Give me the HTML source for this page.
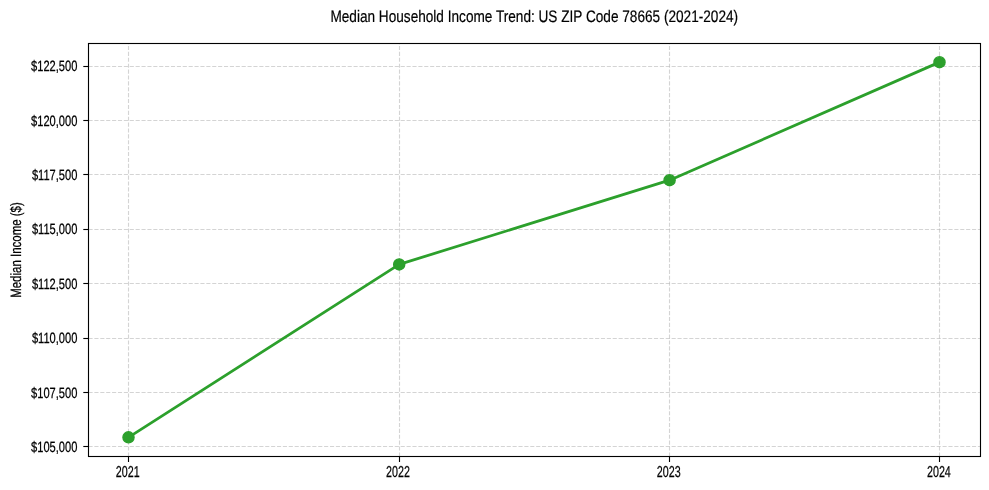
<!DOCTYPE html>
<html><head><meta charset="utf-8"><title>Median Household Income Trend</title><style>
html,body{margin:0;padding:0;background:#fff;width:989px;height:490px;overflow:hidden}
svg{display:block} text{will-change:transform;text-rendering:geometricPrecision} text.rot{will-change:auto;filter:grayscale(1)}
</style></head><body>
<svg width="989" height="490" viewBox="0 0 989 490">
<rect width="989" height="490" fill="#fff"/>
<g stroke="#b0b0b0" stroke-opacity="0.55" stroke-width="1.11" stroke-dasharray="4.11 1.78"><line x1="88.5" x2="980.5" y1="446.5" y2="446.5"/><line x1="88.5" x2="980.5" y1="392.5" y2="392.5"/><line x1="88.5" x2="980.5" y1="338.5" y2="338.5"/><line x1="88.5" x2="980.5" y1="283.5" y2="283.5"/><line x1="88.5" x2="980.5" y1="229.5" y2="229.5"/><line x1="88.5" x2="980.5" y1="174.5" y2="174.5"/><line x1="88.5" x2="980.5" y1="120.5" y2="120.5"/><line x1="88.5" x2="980.5" y1="66.5" y2="66.5"/><line x1="128.5" x2="128.5" y1="456.5" y2="43.5"/><line x1="399.5" x2="399.5" y1="456.5" y2="43.5"/><line x1="669.5" x2="669.5" y1="456.5" y2="43.5"/><line x1="939.5" x2="939.5" y1="456.5" y2="43.5"/></g>
<polyline points="128.50,437.30 399.20,264.40 669.60,180.20 939.50,62.20" fill="none" stroke="#2ca02c" stroke-width="2.78" stroke-linejoin="round" stroke-linecap="square"/>
<circle cx="128.50" cy="437.30" r="5.56" fill="#2ca02c" stroke="#2ca02c" stroke-width="1.39"/>
<circle cx="399.20" cy="264.40" r="5.56" fill="#2ca02c" stroke="#2ca02c" stroke-width="1.39"/>
<circle cx="669.60" cy="180.20" r="5.56" fill="#2ca02c" stroke="#2ca02c" stroke-width="1.39"/>
<circle cx="939.50" cy="62.20" r="5.56" fill="#2ca02c" stroke="#2ca02c" stroke-width="1.39"/>
<rect x="88.5" y="43.5" width="892.0" height="413.0" fill="none" stroke="#000" stroke-width="1.11" stroke-linejoin="miter"/>
<g stroke="#000" stroke-width="1.11"><line x1="83.3" x2="88.5" y1="446.5" y2="446.5"/><line x1="83.3" x2="88.5" y1="392.5" y2="392.5"/><line x1="83.3" x2="88.5" y1="338.5" y2="338.5"/><line x1="83.3" x2="88.5" y1="283.5" y2="283.5"/><line x1="83.3" x2="88.5" y1="229.5" y2="229.5"/><line x1="83.3" x2="88.5" y1="174.5" y2="174.5"/><line x1="83.3" x2="88.5" y1="120.5" y2="120.5"/><line x1="83.3" x2="88.5" y1="66.5" y2="66.5"/><line x1="128.5" x2="128.5" y1="456.5" y2="462"/><line x1="399.5" x2="399.5" y1="456.5" y2="462"/><line x1="669.5" x2="669.5" y1="456.5" y2="462"/><line x1="939.5" x2="939.5" y1="456.5" y2="462"/></g>
<g font-family="'Liberation Sans', Arial, sans-serif" font-size="14.9" fill="#000" stroke="#000" stroke-width="0.25"><text transform="translate(77.4,451.60) scale(0.7461,1)" text-anchor="end">$105,000</text><text transform="translate(77.4,397.60) scale(0.7461,1)" text-anchor="end">$107,500</text><text transform="translate(77.4,342.80) scale(0.7461,1)" text-anchor="end">$110,000</text><text transform="translate(77.4,288.60) scale(0.7461,1)" text-anchor="end">$112,500</text><text transform="translate(77.4,234.00) scale(0.7461,1)" text-anchor="end">$115,000</text><text transform="translate(77.4,179.60) scale(0.7461,1)" text-anchor="end">$117,500</text><text transform="translate(77.4,125.60) scale(0.7461,1)" text-anchor="end">$120,000</text><text transform="translate(77.4,70.80) scale(0.7461,1)" text-anchor="end">$122,500</text><text transform="translate(127.70,477.2) scale(0.6778,1)" text-anchor="middle" font-size="15.8">2021</text><text transform="translate(398.00,477.2) scale(0.6778,1)" text-anchor="middle" font-size="15.8">2022</text><text transform="translate(668.70,477.2) scale(0.6778,1)" text-anchor="middle" font-size="15.8">2023</text><text transform="translate(938.90,477.2) scale(0.6778,1)" text-anchor="middle" font-size="15.8">2024</text></g>
<text class="rot" transform="translate(21.0,250.0) rotate(-90) scale(0.7705,1)" text-anchor="middle" font-family="'Liberation Sans', Arial, sans-serif" font-size="14.9" stroke="#000" stroke-width="0.25">Median Income ($)</text>
<text transform="translate(534.25,21.8) scale(0.8174,1)" text-anchor="middle" font-family="'Liberation Sans', Arial, sans-serif" font-size="16.67" stroke="#000" stroke-width="0.2">Median Household Income Trend: US ZIP Code 78665 (2021-2024)</text>
</svg>
</body></html>
